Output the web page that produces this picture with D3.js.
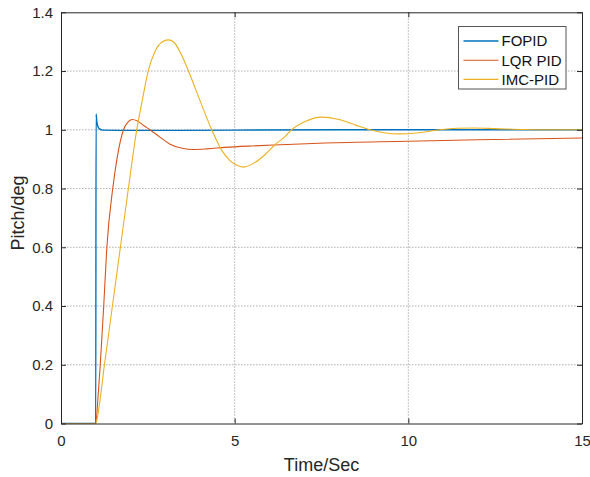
<!DOCTYPE html>
<html>
<head>
<meta charset="utf-8">
<script src="https://cdn.jsdelivr.net/npm/d3@7/dist/d3.min.js"></script>
<style>
body { margin:0; background:#fff; }
svg { display:block; font-family:"Liberation Sans", Arial, sans-serif; }
</style>
</head>
<body>
<div id="chart"></div>
<script>
// 데이터
var seriesNames = ["FOPID", "LQR PID", "IMC-PID"];
var xTicks = [0, 5, 10, 15];
var yTicks = [0, 0.2, 0.4, 0.6, 0.8, 1, 1.2, 1.4];

var fopid = [[0,0],[1,0],[1.01,1.054],[1.03,1.03],[1.06,1.012],[1.1,1.004],[1.2,0.999],
    [2,0.998],[3,0.998],[5,0.999],[8,1.0],[15,1.0]];
var lqr = [[0,0],[1,0],[1.06,0.08],[1.13,0.2],[1.23,0.4],[1.32,0.6],[1.49,0.8],[1.61,0.9],
    [1.80,1.0],[1.92,1.025],[2.05,1.035],[2.2,1.03],[2.4,1.013],[2.56,1.0],[2.85,0.975],
    [3.14,0.951],[3.52,0.936],[3.8,0.933],[4.2,0.935],[4.72,0.94],[5.5,0.945],[6.3,0.949],
    [7.6,0.955],[10,0.961],[12,0.966],[15,0.972]];
var imc = [[0,0],[1,0],[1.1,0.06],[1.24,0.19],[1.48,0.4],[1.71,0.6],[1.94,0.8],[2.18,1.0],
    [2.34,1.1],[2.51,1.2],[2.7,1.265],[2.9,1.298],[3.09,1.306],[3.25,1.298],[3.45,1.26],
    [3.67,1.2],[4.0,1.1],[4.34,1.0],[4.63,0.93],[4.85,0.897],[5.05,0.88],[5.25,0.873],
    [5.59,0.889],[5.87,0.915],[6.16,0.949],[6.45,0.977],[6.64,1.0],[7.03,1.028],[7.5,1.043],
    [8.0,1.035],[8.5,1.015],[8.9,1.0],[9.3,0.99],[9.76,0.986],[10.3,0.99],[10.9,1.0],
    [11.4,1.005],[11.9,1.006],[12.5,1.004],[13.3,1.001],[14,1.0],[15,1.0]];

var colors = ["#0072BD", "#D95319", "#EDB120"];
var widths = [1.4, 1.1, 1.1];

var W = 590, H = 477;
var margin = {top:12.3, right:8, bottom:53.5, left:61};
var width = W - margin.left - margin.right,
    height = H - margin.top - margin.bottom;

var x = d3.scaleLinear().domain([0, 15]).range([0, width]);
var y = d3.scaleLinear().domain([0, 1.4]).range([height, 0]);

var svg = d3.select("#chart").append("svg")
    .attr("width", W).attr("height", H);
var g = svg.append("g")
    .attr("transform", "translate(" + margin.left + "," + margin.top + ")");

g.append("defs").append("clipPath").attr("id", "clip")
  .append("rect").attr("width", width).attr("height", height);

// 그리드
g.selectAll(".gx").data(xTicks.slice(1, -1)).enter().append("line")
    .attr("x1", function(d){ return x(d); }).attr("x2", function(d){ return x(d); })
    .attr("y1", 0).attr("y2", height)
    .attr("stroke", "#9a9a9a").attr("stroke-width", 0.8)
    .attr("stroke-dasharray", "1.5,1.5");
g.selectAll(".gy").data(yTicks.slice(1, -1)).enter().append("line")
    .attr("x1", 0).attr("x2", width)
    .attr("y1", function(d){ return y(d); }).attr("y2", function(d){ return y(d); })
    .attr("stroke", "#9a9a9a").attr("stroke-width", 0.8)
    .attr("stroke-dasharray", "1.5,1.5");

// 라인
var line = d3.line()
    .x(function(d){ return x(d[0]); })
    .y(function(d){ return y(d[1]); })
    .curve(d3.curveMonotoneX);

[fopid, lqr, imc].forEach(function(s, i){
  g.append("path").datum(s)
    .attr("clip-path", "url(#clip)")
    .attr("fill", "none")
    .attr("stroke", colors[i])
    .attr("stroke-width", widths[i])
    .attr("d", line);
});

// 축
var axisColor = "#262626";
var xAxis = g.append("g").attr("transform", "translate(0," + height + ")")
    .call(d3.axisBottom(x).tickValues(xTicks).tickSizeInner(-5).tickSizeOuter(0).tickPadding(12)
      .tickFormat(d3.format("d")));
var yAxis = g.append("g")
    .call(d3.axisLeft(y).tickValues(yTicks).tickSizeInner(-5).tickSizeOuter(0).tickPadding(8)
      .tickFormat(function(d){ return d === 0 || d === 1 ? d : d3.format(".1f")(d); }));
var xTop = g.append("g")
    .call(d3.axisTop(x).tickValues(xTicks).tickSizeInner(-5).tickSizeOuter(0).tickFormat(""));
var yRight = g.append("g").attr("transform", "translate(" + width + ",0)")
    .call(d3.axisRight(y).tickValues(yTicks).tickSizeInner(-5).tickSizeOuter(0).tickFormat(""));

[xAxis, yAxis, xTop, yRight].forEach(function(a){
  a.selectAll("path").attr("stroke", axisColor).attr("stroke-width", 1);
  a.selectAll("line").attr("stroke", axisColor);
  a.selectAll("text").attr("fill", axisColor).style("font-size", "15px")
    .style("font-family", "'Liberation Sans', Arial, sans-serif");
});

// 라벨
svg.append("text")
    .attr("x", margin.left + width / 2).attr("y", 470.5)
    .attr("text-anchor", "middle")
    .attr("fill", axisColor)
    .style("font-size", "18px")
    .text("Time/Sec");
svg.append("text")
    .attr("transform", "translate(24," + 213 + ") rotate(-90)")
    .attr("text-anchor", "middle")
    .attr("fill", axisColor)
    .style("font-size", "18px")
    .text("Pitch/deg");

// 범례
var legend = svg.append("g").attr("transform", "translate(458.5,26.5)");
legend.append("rect")
    .attr("width", 107.5).attr("height", 62.5)
    .attr("fill", "#fff").attr("stroke", "#555").attr("stroke-width", 1);
seriesNames.forEach(function(name, i){
  var ly = 14.5 + i * 19.2;
  legend.append("line")
    .attr("x1", 5).attr("x2", 40).attr("y1", ly).attr("y2", ly)
    .attr("stroke", colors[i]).attr("stroke-width", widths[i]);
  legend.append("text")
    .attr("x", 43).attr("y", ly + 5.3)
    .attr("fill", "#111")
    .style("font-size", "15px")
    .text(name);
});
</script>
</body>
</html>
